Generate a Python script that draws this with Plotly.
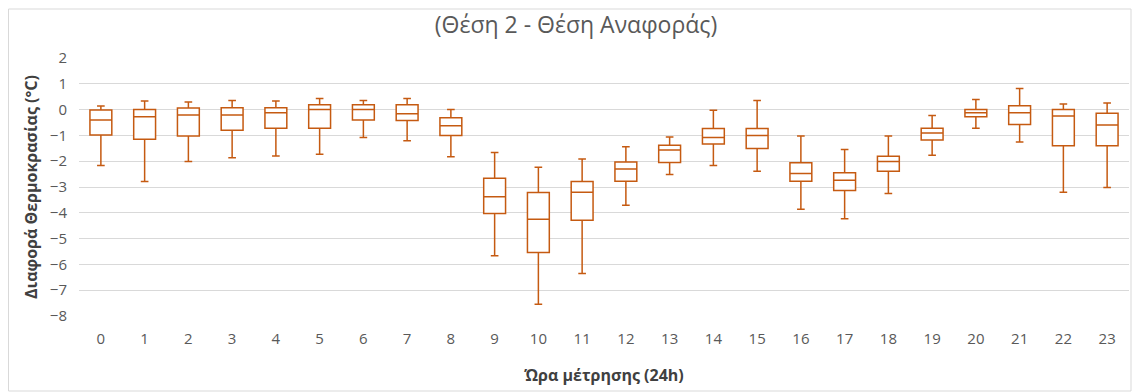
import plotly.graph_objects as go

hours = list(range(24))
upper = [0.14, 0.33, 0.29, 0.35, 0.33, 0.43, 0.35, 0.43, 0.00, -1.66, -2.23, -1.91,
         -1.44, -1.06, -0.03, 0.35, -1.02, -1.55, -1.02, -0.23, 0.39, 0.82, 0.22, 0.26]
q3 = [-0.02, 0.00, 0.06, 0.07, 0.07, 0.19, 0.19, 0.19, -0.32, -2.66, -3.21, -2.79,
      -2.03, -1.38, -0.73, -0.73, -2.06, -2.45, -1.81, -0.72, 0.00, 0.15, 0.00, -0.14]
median = [-0.40, -0.28, -0.21, -0.21, -0.12, 0.00, 0.00, -0.16, -0.63, -3.38, -4.25, -3.20,
          -2.30, -1.57, -1.08, -1.00, -2.48, -2.74, -2.01, -0.91, -0.12, -0.12, -0.25, -0.60]
q1 = [-0.98, -1.15, -1.02, -0.80, -0.72, -0.72, -0.40, -0.42, -1.00, -4.03, -5.54, -4.29,
      -2.78, -2.05, -1.33, -1.51, -2.78, -3.14, -2.39, -1.18, -0.28, -0.58, -1.40, -1.40]
lower = [-2.17, -2.79, -2.01, -1.87, -1.80, -1.73, -1.08, -1.21, -1.83, -5.66, -7.54, -6.35,
         -3.71, -2.52, -2.17, -2.39, -3.86, -4.23, -3.25, -1.77, -0.72, -1.26, -3.20, -3.02]
y_ticks = list(range(-8, 3))

title_text = "(Θέση 2 - Θέση Αναφοράς)"
x_title = "Ώρα μέτρησης (24h)"
y_title = "Διαφορά Θερμοκρασίας (°C)"

color = "#C55A11"
font_fam = "'Open Sans', sans-serif"

W, H = 1136, 384
L, R, T, B = 71, 15, 50, 76
pw, ph = W - L - R, H - T - B

fig = go.Figure()
fig.add_trace(go.Box(
    x=hours, q1=q1, median=median, q3=q3, lowerfence=lower, upperfence=upper,
    width=0.5, whiskerwidth=0.35,
    line=dict(color=color, width=1.5), fillcolor="white",
    boxpoints=False, showlegend=False, hoverinfo="y",
))

fig.update_layout(
    width=W, height=H,
    margin=dict(l=L, r=R, t=T, b=B),
    paper_bgcolor="white", plot_bgcolor="white",
    title=dict(text=title_text, x=0.5, xanchor="center", y=1 - 17 / H, yanchor="middle",
               font=dict(size=23, color="#595959", family=font_fam)),
    font=dict(family=font_fam, color="#595959"),
    xaxis=dict(
        tickmode="array", tickvals=hours, ticktext=[str(h) for h in hours],
        range=[-0.5, 23.5], showgrid=False, showline=False, zeroline=False,
        tickfont=dict(size=15, color="#595959"), ticks="", ticklabelstandoff=12,
        automargin=False,
        title=dict(text="<b>" + x_title + "</b>", font=dict(size=16, color="#404040"), standoff=22),
    ),
    yaxis=dict(
        tickmode="array", tickvals=y_ticks, range=[-8, 2],
        showgrid=True, gridcolor="#D9D9D9", gridwidth=1,
        zeroline=True, zerolinecolor="#D9D9D9", zerolinewidth=1,
        showline=False, ticks="", tickfont=dict(size=15, color="#595959"),
        ticklabelstandoff=11, automargin=False,
        title=dict(text="<b>" + y_title + "</b>", font=dict(size=16, color="#404040"), standoff=8),
    ),
    shapes=[dict(type="rect", xref="paper", yref="paper",
                 x0=-(L - 0) / pw + 0.5 / pw, x1=1 + 2 / pw, y0=-(B - 1) / ph, y1=1 + (T - 1) / ph,
                 line=dict(color="#D9D9D9", width=1), fillcolor="rgba(0,0,0,0)", layer="below")],
)

fig.write_html("out.html")
